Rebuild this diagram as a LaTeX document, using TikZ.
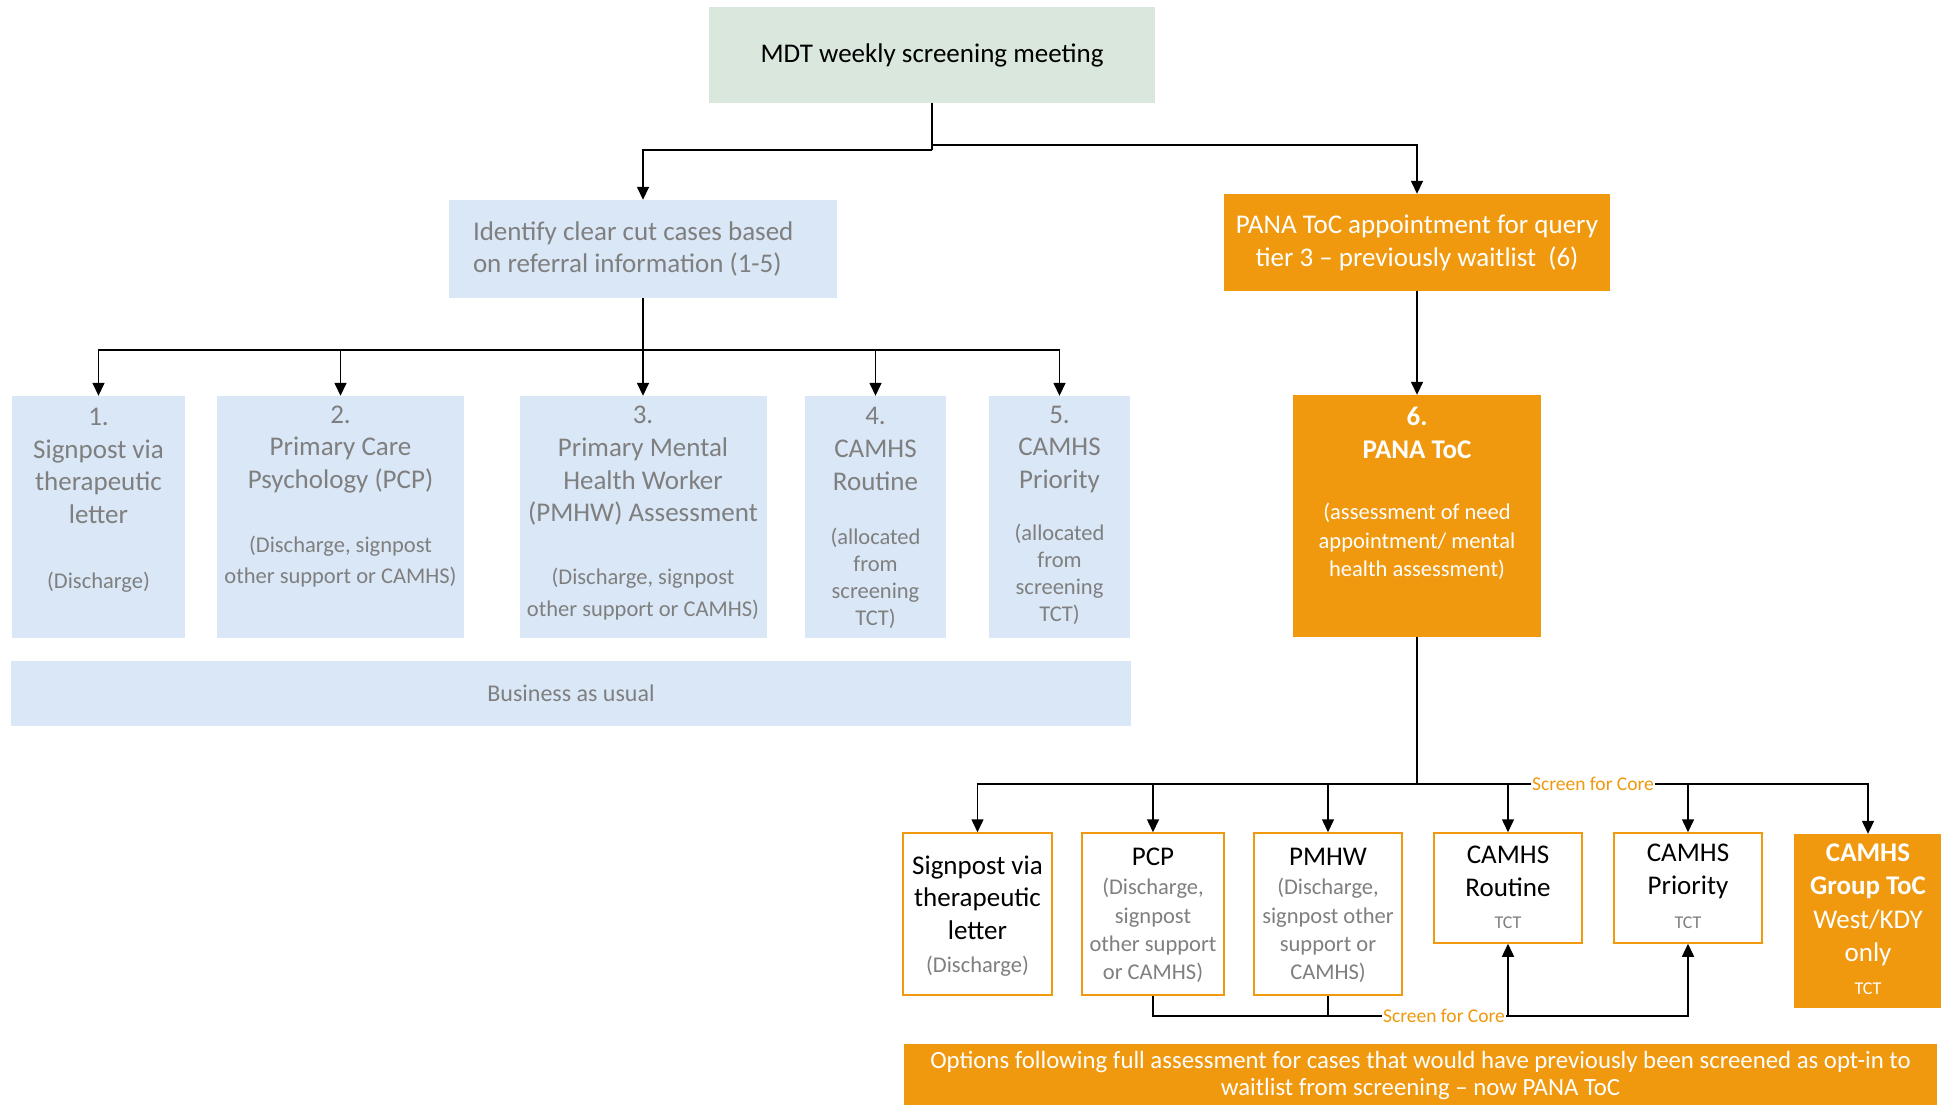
\documentclass[tikz,border=0pt]{standalone}
\usepackage{fontspec}
\setmainfont{Carlito}
\usetikzlibrary{arrows.meta}
\definecolor{paleblue}{HTML}{DAE7F6}
\definecolor{palegreen}{HTML}{DAE7DC}
\definecolor{amber}{HTML}{F0990E}
\definecolor{greytxt}{HTML}{7F7F7F}
\tikzset{
	box/.style={rectangle,inner sep=0pt},
	bluebox/.style={box,fill=paleblue},
	amberbox/.style={box,fill=amber},
	optbox/.style={box,draw=amber,line width=1.5pt,fill=white},
	headtxt/.style={font=\fontsize{27}{32.6}\selectfont,align=center,inner sep=0pt},
	subtxt/.style={font=\fontsize{22.5}{27}\selectfont,align=center,inner sep=0pt,text=greytxt},
	tcttxt/.style={font=\fontsize{18}{22}\selectfont,inner sep=0pt,text=greytxt},
	link/.style={line width=1.5pt},
	arr/.style={link,-{Triangle[length=13pt,width=12pt]}},
	core/.style={font=\fontsize{19.5}{22}\selectfont,text=amber,fill=white,inner xsep=1pt,inner ysep=0pt},
}
\begin{document}
\begin{tikzpicture}[x=1pt,y=-1pt]
	\useasboundingbox (0,0) rectangle (1941,1104);
	\clip (0,0) rectangle (1941,1104);
	% screening and the two routes
	\node[box,fill=palegreen,minimum width=446,minimum height=96,headtxt] (mdt) at (932,55) {MDT weekly screening meeting};
	\node[bluebox,minimum height=98,headtxt,text=greytxt,align=flush left,text width=340,inner xsep=24] (ident) at (643,249) {Identify clear cut cases based\\on referral information (1-5)};
	\node[amberbox,minimum width=386,minimum height=97,headtxt,text=white,font=\fontsize{27}{33}\selectfont] (pana) at (1417,242.5) {PANA ToC appointment for query\\tier 3 -- previously waitlist\ \ (6)};
	\coordinate (m1) at (932,150); \coordinate (m2) at (932,145);
	\draw[link] (mdt.south) -- (m1);
	\draw[arr] (m1) -| (ident.north);
	\draw[arr] (m2) -| (pana.north);
	% business as usual
	\node[bluebox,minimum width=173,minimum height=242] (b1) at (98.5,517) {};
	\node[bluebox,minimum width=247,minimum height=242] (b2) at (340.5,517) {};
	\node[bluebox,minimum width=247,minimum height=242] (b3) at (643,517) {};
	\node[bluebox,minimum width=141,minimum height=242] (b4) at (875.5,517) {};
	\node[bluebox,minimum width=141,minimum height=242] (b5) at (1059.5,517) {};
	\node[headtxt,text=greytxt] (b1h) at (98.5,466) {1.\\Signpost via\\therapeutic\\letter};
	\node[subtxt] (b1s) at (98.5,582) {(Discharge)};
	\node[headtxt,text=greytxt] (b2h) at (340.5,449.5) {2.\\Primary Care\\Psychology (PCP)};
	\node[subtxt,font=\fontsize{22.5}{31}\selectfont] (b2s) at (340.5,561.5) {(Discharge, signpost\\other support or CAMHS)};
	\node[headtxt,text=greytxt] (b3h) at (643,466) {3.\\Primary Mental\\Health Worker\\(PMHW) Assessment};
	\node[subtxt,font=\fontsize{22.5}{32}\selectfont] (b3s) at (643,594) {(Discharge, signpost\\other support or CAMHS)};
	\node[headtxt,text=greytxt] (b4h) at (875.5,449) {4.\\CAMHS\\Routine};
	\node[subtxt] (b4s) at (875.5,578) {(allocated\\from\\screening\\TCT)};
	\node[headtxt,text=greytxt] (b5h) at (1059.5,449.5) {5.\\CAMHS\\Priority};
	\node[subtxt] (b5s) at (1059.5,574.5) {(allocated\\from\\screening\\TCT)};
	\node[bluebox,minimum width=1120,minimum height=65,font=\fontsize{24}{28}\selectfont,text=greytxt] (bau) at (571,693.5) {Business as usual};
	\coordinate (r1) at (643,350);
	\draw[link] (ident.south) -- (r1);
	\foreach \n in {b1,b2,b3,b4,b5} \draw[arr] (r1) -| (\n.north);
	% PANA ToC and its options
	\node[amberbox,minimum width=248,minimum height=242] (pana6) at (1417,516) {};
	\node[headtxt,text=white,font=\fontsize{27}{32.6}\bfseries] (pana6h) at (1417,433) {6.\\PANA ToC};
	\node[subtxt,text=white,font=\fontsize{22.5}{28.5}\selectfont] (pana6s) at (1417,541.5) {(assessment of need\\appointment/ mental\\health assessment)};
	\draw[arr] (pana.south) -- (pana6.north);
	\node[optbox,minimum width=149,minimum height=162] (sig) at (977.5,914) {};
	\node[optbox,minimum width=142,minimum height=162] (pcp) at (1153,914) {};
	\node[optbox,minimum width=148,minimum height=162] (pmhw) at (1328,914) {};
	\node[optbox,minimum width=148,minimum height=110] (rout) at (1508,888) {};
	\node[optbox,minimum width=148,minimum height=110] (prio) at (1688,888) {};
	\node[amberbox,minimum width=148,minimum height=174] (grp) at (1868,921) {};
	\node[headtxt] (sigh) at (977.5,897.5) {Signpost via\\therapeutic\\letter};
	\node[subtxt] (sigs) at (977.5,966) {(Discharge)};
	\node[headtxt] (pcph) at (1153,857) {PCP};
	\node[subtxt,font=\fontsize{22.5}{28.3}\selectfont] (pcps) at (1153,930.5) {(Discharge,\\signpost\\other support\\or CAMHS)};
	\node[headtxt] (pmhwh) at (1328,857) {PMHW};
	\node[subtxt,font=\fontsize{22.5}{28.3}\selectfont] (pmhws) at (1328,930.5) {(Discharge,\\signpost other\\support or\\CAMHS)};
	\node[headtxt] (routh) at (1508,871.5) {CAMHS\\Routine};
	\node[tcttxt] (routt) at (1508,923) {TCT};
	\node[headtxt] (prioh) at (1688,871.5) {CAMHS\\Priority};
	\node[tcttxt] (priot) at (1688,923) {TCT};
	\node[headtxt,text=white,font=\fontsize{27}{32.6}\bfseries] (grph) at (1868,871.5) {CAMHS\\Group ToC};
	\node[headtxt,text=white] (grpw) at (1868,937.5) {West/KDY\\only};
	\node[tcttxt,text=white] (grpt) at (1868,989) {TCT};
	\coordinate (r2) at (1417,784);
	\draw[line width=2.5pt] (pana6.south) -- (r2);
	\foreach \n in {sig,pcp,pmhw,rout,prio,grp} \draw[arr] (r2) -| (\n.north);
	\node[core] (core1) at (1593,784) {Screen for Core};
	\coordinate (r3) at (1328,1016);
	\draw[link] (pcp.south) |- (r3);
	\draw[link] (pmhw.south) -- (r3);
	\foreach \n in {rout,prio} \draw[arr] (r3) -| (\n.south);
	\node[core] (core2) at (1444,1016) {Screen for Core};
	\node[amberbox,minimum width=1033,minimum height=63,font=\fontsize{24.8}{27}\selectfont,text=white,align=center] (opts) at (1420.5,1075.5) {Options following full assessment for cases that would have previously been screened as opt-in to\\waitlist from screening -- now PANA ToC};
\end{tikzpicture}
\end{document}
